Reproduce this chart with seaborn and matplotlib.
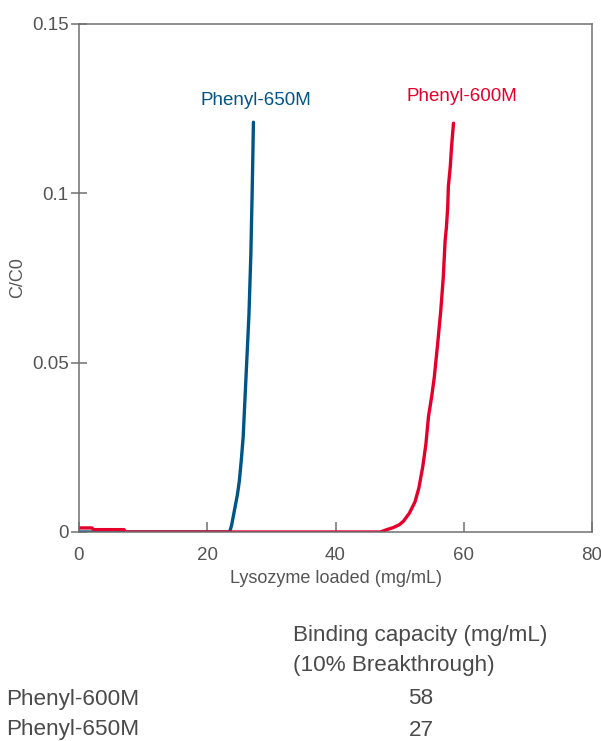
import pandas as pd
import matplotlib
matplotlib.use("Agg")
import matplotlib.pyplot as plt
import seaborn as sns

# Breakthrough curves
x_650 = [0, 10, 20, 23.5, 23.8, 24.1, 24.4, 24.7, 25.0, 25.3, 25.6, 25.9, 26.2,
         26.5, 26.8, 27.0, 27.1, 27.2]
y_650 = [0, 0, 0, 0, 0.002, 0.005, 0.008, 0.011, 0.015, 0.021, 0.028, 0.040, 0.052,
         0.064, 0.082, 0.100, 0.110, 0.121]

x_600 = [0, 2, 2.3, 7, 7.3, 47, 48, 49, 50, 50.6, 51.5, 52.4, 53.0, 53.6, 54.1,
         54.5, 55.0, 55.4, 55.9, 56.4, 56.8, 57.1, 57.3, 57.5, 57.6, 57.9, 58.1, 58.4]
y_600 = [0.0012, 0.0012, 0.0007, 0.0007, 0.0, 0.0, 0.0007, 0.0013, 0.0022, 0.0032,
         0.0055, 0.0089, 0.013, 0.0192, 0.026, 0.0341, 0.040, 0.0456, 0.055, 0.065,
         0.075, 0.0862, 0.090, 0.096, 0.102, 0.1079, 0.1138, 0.1207]

resins = ["Phenyl-650M", "Phenyl-600M"]
colors = {"Phenyl-650M": "#005587", "Phenyl-600M": "#e4002b"}
capacity = ["58", "27"]
table_rows = ["Phenyl-600M", "Phenyl-650M"]

x_ticks = [0, 20, 40, 60, 80]
y_ticks = [0, 0.05, 0.1, 0.15]
y_tick_labels = ["0", "0.05", "0.1", "0.15"]

df = pd.concat([
    pd.DataFrame({"load": x_650, "cc0": y_650, "resin": "Phenyl-650M"}),
    pd.DataFrame({"load": x_600, "cc0": y_600, "resin": "Phenyl-600M"}),
])

sns.set_style("white")
plt.rcParams["font.family"] = ["Liberation Sans", "DejaVu Sans"]

fig = plt.figure(figsize=(6.01, 7.41), dpi=100)
ax = fig.add_axes([79 / 601, 1 - 532 / 741, 513 / 601, 508 / 741])

sns.lineplot(data=df, x="load", y="cc0", hue="resin", hue_order=resins,
             palette=colors, linewidth=2.4, sort=False, estimator=None,
             legend=False, ax=ax)

ax.set_xlim(0, 80)
ax.set_ylim(0, 0.15)
ax.set_xticks(x_ticks)
ax.set_yticks(y_ticks)
ax.set_yticklabels(y_tick_labels)

grey = "#555555"
for s in ax.spines.values():
    s.set_color("#707070")
    s.set_linewidth(1.1)
ax.tick_params(axis="x", bottom=True, direction="in", length=7, width=1.1,
               color="#707070", labelsize=13.5, labelcolor=grey, pad=11)
ax.tick_params(axis="y", left=True, direction="inout", length=11, width=1.1,
               color="#707070", labelsize=13.5, labelcolor=grey, pad=2)

ax.set_xlabel("Lysozyme loaded (mg/mL)", fontsize=13, color=grey, labelpad=4)
ax.set_ylabel("C/C0", fontsize=13, color=grey)
ax.yaxis.set_label_coords(-0.103, 0.5)

ax.text(27.6, 0.1275, "Phenyl-650M", color=colors["Phenyl-650M"], fontsize=13.5,
        ha="center", va="center")
ax.text(59.7, 0.1285, "Phenyl-600M", color=colors["Phenyl-600M"], fontsize=13.5,
        ha="center", va="center")

# binding capacity table under the chart
tcol = "#4a4a4a"
tsize = 16.2
fig.text(293 / 601, 1 - 635 / 741, "Binding capacity (mg/mL)", fontsize=tsize,
         color=tcol, va="center")
fig.text(293 / 601, 1 - 666 / 741, "(10% Breakthrough)", fontsize=tsize,
         color=tcol, va="center")
for i, (name, val) in enumerate(zip(table_rows, capacity)):
    yy = 1 - (699 + 31 * i) / 741
    fig.text(6 / 601, yy, name, fontsize=tsize, color=tcol, va="center")
    fig.text(421 / 601, yy, val, fontsize=tsize, color=tcol,
             va="center", ha="center")

fig.savefig("out.png", dpi=100)
